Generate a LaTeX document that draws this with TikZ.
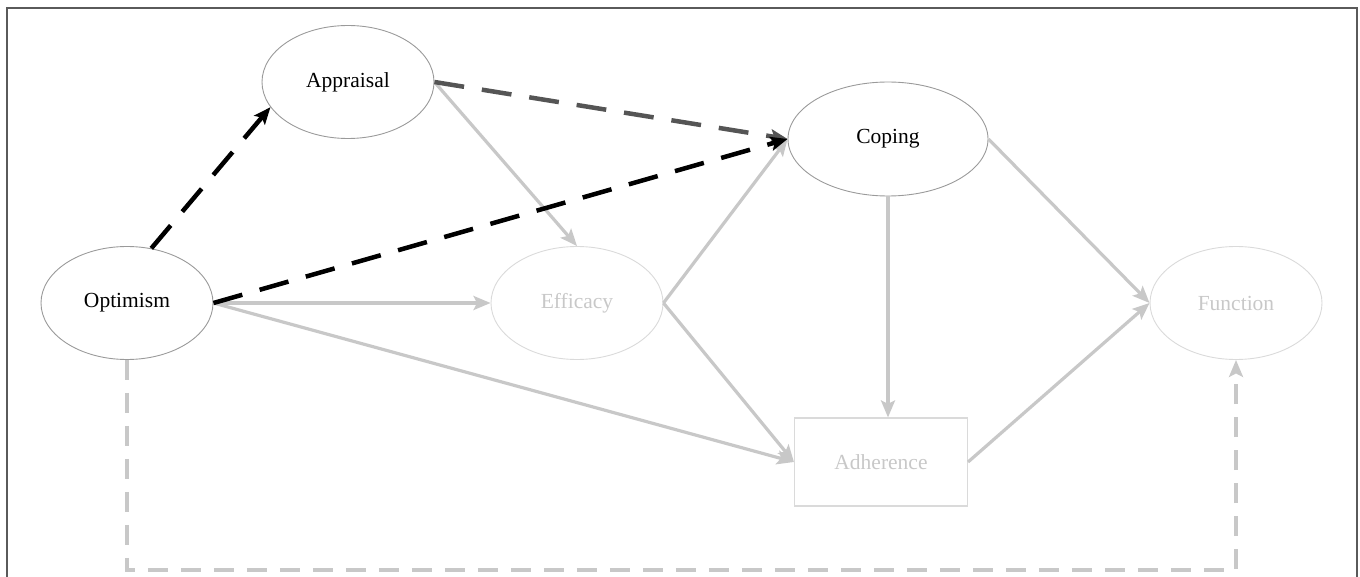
\documentclass[tikz,border=0pt]{standalone}
\usepackage{fontspec}
\setmainfont{Liberation Serif}
\usetikzlibrary{shapes.geometric,arrows.meta}
\definecolor{edgegray}{HTML}{C8C8C8}
\definecolor{darkpath}{HTML}{555555}
\definecolor{faint}{HTML}{DADADA}
\definecolor{rimgray}{HTML}{9A9A9A}
\definecolor{framegray}{HTML}{5A5A5A}
\tikzset{
  every node/.style={font=\fontsize{21.5}{25}\selectfont},
  strong/.style={ellipse, draw=rimgray, line width=0.9pt, minimum width=172pt, minimum height=113pt, inner sep=0pt, text=black},
  weak/.style={ellipse, draw=faint, line width=0.9pt, minimum width=172pt, minimum height=113pt, inner sep=0pt, text=edgegray},
  weakbox/.style={rectangle, draw=faint, line width=1.1pt, minimum width=173pt, minimum height=88pt, inner sep=0pt, text=edgegray},
  tip/.style={-{Stealth[length=17pt,width=14pt,inset=3.5pt]}},
  plain/.style={tip, draw=edgegray, line width=3.2pt},
  boldpath/.style={tip, draw=black, line width=4.5pt, dash pattern=on 30pt off 18pt},
  greypath/.style={tip, draw=darkpath, line width=4.5pt, dash pattern=on 30pt off 18pt},
  lowpath/.style={tip, draw=edgegray, line width=3.2pt, dash pattern=on 20pt off 13pt},
}
\begin{document}
\begin{tikzpicture}[x=1pt,y=-1pt]
\useasboundingbox (0,0) rectangle (1360,577);
% outer frame, open at the bottom
\draw[framegray, line width=1.8pt] (7,577) -- (7,8) -- (1357,8) -- (1357,577);

% constructs
\node[strong] (opt) at (127,303) {Optimism};
\node[strong] (app) at (348,82) {Appraisal};
\node[strong, minimum width=200pt, minimum height=114pt] (cop) at (888,139) {Coping};
\node[weak] (eff) at (577,303) {Efficacy};
\node[weak] (fun) at (1236,303) {Function};
\node[weakbox] (adh) at (881,462) {Adherence};
\coordinate (low) at (0,570);

% solid paths
\draw[plain] (app.east) -- (eff.north);
\draw[plain] (opt.east) -- (eff.west);
\draw[plain] (opt.east) -- (adh.west);
\draw[plain] (eff.east) -- (cop.west);
\draw[plain] (eff.east) -- (adh.west);
\draw[plain] (cop.south) -- (cop.south |- adh.north);
\draw[plain] (cop.east) -- (fun.west);
\draw[plain] (adh.east) -- (fun.west);

% dashed paths
\draw[lowpath] (opt.south) -- (opt.south |- low) -- (fun.south |- low) -- (fun.south);
\draw[greypath] (app.east) -- (cop.west);
\draw[boldpath] (opt.66) -- (app.198);
\draw[boldpath] (opt.east) -- (cop.west);
\end{tikzpicture}
\end{document}
